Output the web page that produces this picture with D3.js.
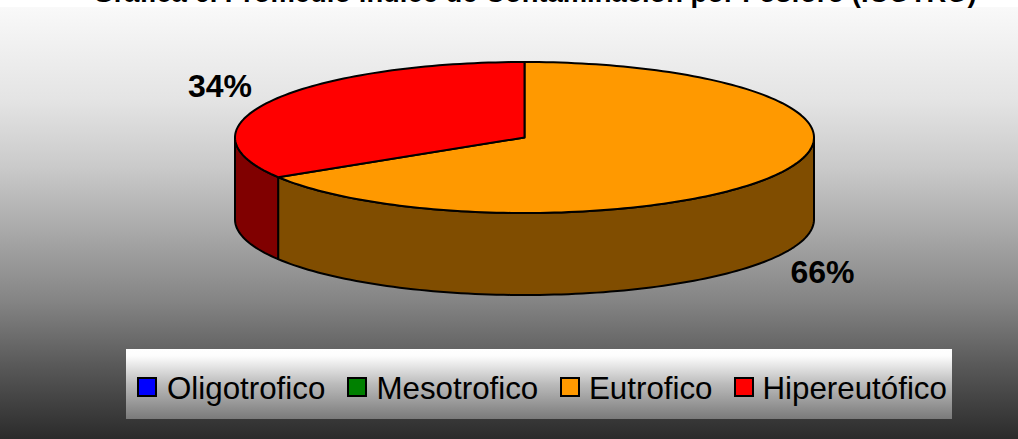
<!DOCTYPE html>
<html><head><meta charset="utf-8">
<script src="https://cdn.jsdelivr.net/npm/d3@7"></script>
<style>html,body{margin:0;padding:0;background:#fff}svg{display:block}text{font-family:"Liberation Sans",Arial,sans-serif;fill:#000}</style>
</head><body><svg id="c" width="1018" height="439"></svg>
<script>
const titleText = "Gráfica 6. Promedio índice de Contaminación por Fósforo (ICOTRO)";
const categories = ["Oligotrofico","Mesotrofico","Eutrofico","Hipereutófico"];
const shares = [0,0,66.2,33.8];
const colors = ["#0000ff","#008000","#ff9900","#ff0000"];
const sideColors = ["#000080","#004000","#804d00","#800000"];
const legendSwatchX = [138,348,561,735];
const legendTextX = [167,376.5,589,762.5];

const W=1018,H=439;
const svg=d3.select("#c");
const defs=svg.append("defs");
function grad(id,stops){const g=defs.append("linearGradient").attr("id",id).attr("x1",0).attr("y1",0).attr("x2",0).attr("y2",1);
 stops.forEach(s=>g.append("stop").attr("offset",s[0]).attr("stop-color",s[1]));}
grad("bg",[[0,"#f9f9f9"],[0.215,"#e4e4e4"],[0.37,"#cacaca"],[0.523,"#a8a8a8"],[0.678,"#858585"],[0.833,"#585858"],[1,"#2b2b2b"]]);
grad("lg",[[0,"#ffffff"],[0.1,"#fdfdfd"],[0.5,"#bbbbbb"],[1,"#7a7a7a"]]);
svg.append("rect").attr("x",0).attr("y",7).attr("width",W).attr("height",H-7).attr("fill","url(#bg)");
svg.append("text").attr("x",534.5).attr("y",2).attr("text-anchor","middle").attr("font-size",27.4).attr("font-weight","bold").text(titleText);

const cx=524.5,cy=137.5,rx=289.5,ry=75.5,depth=82;
const px=d3.scaleLinear().domain([-1,1]).range([cx-rx,cx+rx]);
const py=d3.scaleLinear().domain([-1,1]).range([cy-ry,cy+ry]);
const pie=d3.pie().sort(null).value(d=>d)(shares);
const pt=(a,dz=0)=>[px(Math.sin(a)),py(-Math.cos(a))+dz];
const sample=(a0,a1,dz=0)=>{const n=Math.max(2,Math.ceil(Math.abs(a1-a0)*40));return d3.range(n+1).map(i=>pt(a0+(a1-a0)*i/n,dz));};
const line=d3.line();
const g=svg.append("g").attr("stroke","#000").attr("stroke-width",2).attr("stroke-linejoin","round");
pie.forEach((d,i)=>{
  if(d.value===0)return;
  const a0=Math.max(d.startAngle,Math.PI/2),a1=Math.min(d.endAngle,3*Math.PI/2);
  if(a1<=a0)return;
  const pts=sample(a0,a1,0).concat(sample(a1,a0,depth));
  g.append("path").attr("d",line(pts)+"Z").attr("fill",sideColors[i]);
});
pie.forEach((d,i)=>{
  if(d.value===0)return;
  const pts=[[cx,cy]].concat(sample(d.startAngle,d.endAngle));
  g.append("path").attr("d",line(pts)+"Z").attr("fill",colors[i]);
});
const pct=d3.format(".0f");
const labelPos={2:[822.5,283],3:[220,97]};
pie.forEach((d,i)=>{
  if(d.value===0)return;
  svg.append("text").attr("x",labelPos[i][0]).attr("y",labelPos[i][1]).attr("text-anchor","middle").attr("font-size",32).attr("font-weight","bold").text(pct(d.value)+"%");
});
svg.append("rect").attr("x",126).attr("y",349).attr("width",826).attr("height",70).attr("fill","url(#lg)");
categories.forEach((c,i)=>{
  svg.append("rect").attr("x",legendSwatchX[i]).attr("y",378).attr("width",18).attr("height",18).attr("fill",colors[i]).attr("stroke","#000").attr("stroke-width",2);
  svg.append("text").attr("x",legendTextX[i]).attr("y",398.5).attr("font-size",31.3).text(c);
});
</script></body></html>
